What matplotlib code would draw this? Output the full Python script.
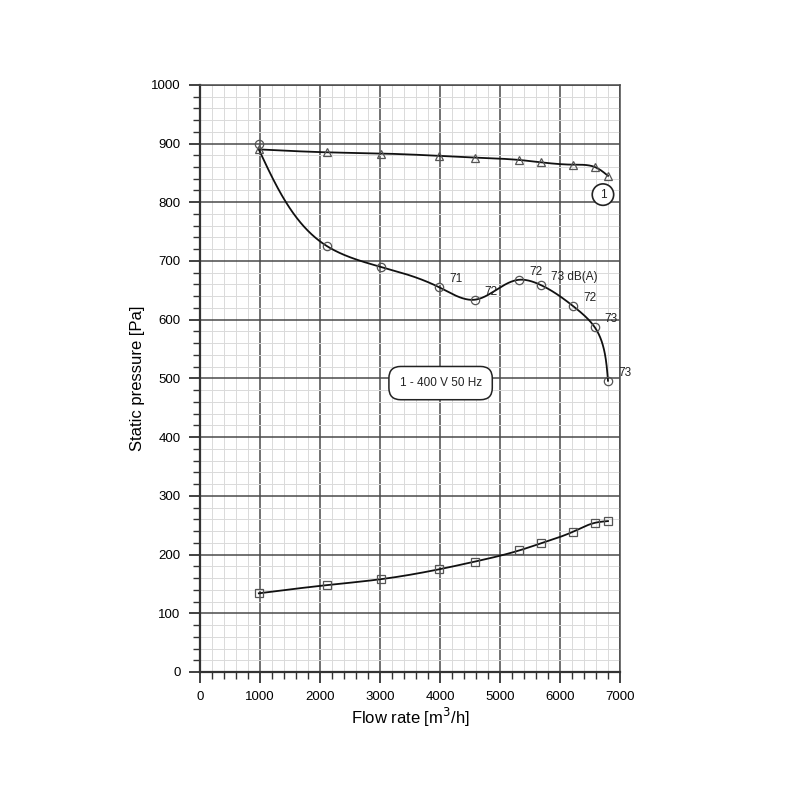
import numpy as np
import matplotlib
matplotlib.use("Agg")
import matplotlib.pyplot as plt
from matplotlib.ticker import MultipleLocator

plt.rcParams['font.family'] = ['Liberation Sans', 'DejaVu Sans']

# ---- data ----
flow = [980, 2120, 3010, 3990, 4580, 5320, 5680, 6220, 6580, 6800]
pressure_tri = [890, 885, 883, 879, 876, 872, 868, 864, 860, 845]
pressure_circ = [900, 725, 690, 655, 634, 668, 659, 623, 587, 496]
power_sq = [134, 148, 158, 175, 188, 207, 219, 239, 254, 257]
noise_labels = [None, None, None, '71', '72', '72', '73 dB(A)', '72', '73', '73']
x_ticks = [0, 1000, 2000, 3000, 4000, 5000, 6000, 7000]
y_ticks = [0, 100, 200, 300, 400, 500, 600, 700, 800, 900, 1000]
supply_text = '1 - 400 V 50 Hz'
curve_id = '1'


def natural_spline(t, y, tt):
    t = np.asarray(t, float); y = np.asarray(y, float)
    n = len(t)
    h = np.diff(t)
    A = np.zeros((n, n)); b = np.zeros(n)
    A[0, 0] = 1; A[-1, -1] = 1
    for i in range(1, n - 1):
        A[i, i - 1] = h[i - 1]
        A[i, i] = 2 * (h[i - 1] + h[i])
        A[i, i + 1] = h[i]
        b[i] = 6 * ((y[i + 1] - y[i]) / h[i] - (y[i] - y[i - 1]) / h[i - 1])
    M = np.linalg.solve(A, b)
    out = np.empty_like(tt)
    idx = np.clip(np.searchsorted(t, tt) - 1, 0, n - 2)
    for k, (v, i) in enumerate(zip(tt, idx)):
        a = t[i + 1] - v; c = v - t[i]; hi = h[i]
        out[k] = (M[i] * a ** 3 + M[i + 1] * c ** 3) / (6 * hi) + \
                 (y[i] / hi - M[i] * hi / 6) * a + (y[i + 1] / hi - M[i + 1] * hi / 6) * c
    return out


def smooth(xs, ys):
    xs = np.asarray(xs, float); ys = np.asarray(ys, float)
    dx = np.diff(xs) / 7000 * 420
    dy = np.diff(ys) / 1000 * 587
    t = np.concatenate([[0], np.cumsum(np.hypot(dx, dy))])
    tt = np.linspace(0, t[-1], 600)
    return natural_spline(t, xs, tt), natural_spline(t, ys, tt)


fig = plt.figure(figsize=(8, 8), dpi=100)
ax = fig.add_axes([0.25, 0.16, 0.525, 0.734])
ax.set_xlim(0, 7000)
ax.set_ylim(0, 1000)

ax.xaxis.set_minor_locator(MultipleLocator(200))
ax.yaxis.set_minor_locator(MultipleLocator(20))
ax.set_xticks(x_ticks)
ax.set_yticks(y_ticks)
ax.grid(which='major', color='#4a4a4a', lw=1.1)
ax.grid(which='minor', color='#dadada', lw=0.7)
ax.set_axisbelow(True)
for s in ['left', 'bottom']:
    ax.spines[s].set_color('#333333'); ax.spines[s].set_linewidth(1.6)
for s in ['top', 'right']:
    ax.spines[s].set_color('#4a4a4a'); ax.spines[s].set_linewidth(1.1)
ax.tick_params(which='major', direction='out', length=8, width=1.3, color='#333333',
               labelsize=9.5, pad=6)
ax.tick_params(which='minor', direction='out', length=5, width=1.0, color='#333333')

line_kw = dict(color='#111111', lw=1.3, zorder=3)
mk_kw = dict(ls='none', mfc='none', mec='#555555', mew=0.9, zorder=4)

# triangle curve
sx, sy = smooth(flow, pressure_tri)
ax.plot(sx, sy, **line_kw)
ax.plot(flow, pressure_tri, marker='^', ms=6, **mk_kw)

# circle curve (starts from the common first operating point)
cy = [pressure_tri[0]] + pressure_circ[1:]
sx, sy = smooth(flow, cy)
ax.plot(sx, sy, **line_kw)
ax.plot(flow, pressure_circ, marker='o', ms=6, **mk_kw)

# square curve
sx, sy = smooth(flow, power_sq)
ax.plot(sx, sy, **line_kw)
ax.plot(flow, power_sq, marker='s', ms=6, **mk_kw)

for x, y, lab in zip(flow, pressure_circ, noise_labels):
    if lab:
        ax.annotate(lab, (x, y), xytext=(10, 8), textcoords='offset pixels',
                    ha='left', va='center', fontsize=8.5, color='#222222', zorder=5)

ax.text(4010, 492, supply_text, ha='center', va='center', fontsize=8.5, color='#222222',
        zorder=6, bbox=dict(boxstyle='round,pad=0.9,rounding_size=1.0', fc='white',
                            ec='#222222', lw=1.1))
ax.text(6716, 813, curve_id, ha='center', va='center', fontsize=8.5, color='#222222',
        zorder=6, bbox=dict(boxstyle='circle,pad=0.4', fc='white', ec='#222222', lw=1.2))

ax.set_xlabel('Flow rate [m$^3$/h]', fontsize=12, labelpad=2)
ax.set_ylabel('Static pressure [Pa]', fontsize=12, labelpad=4)

fig.savefig('out.png', dpi=100)
